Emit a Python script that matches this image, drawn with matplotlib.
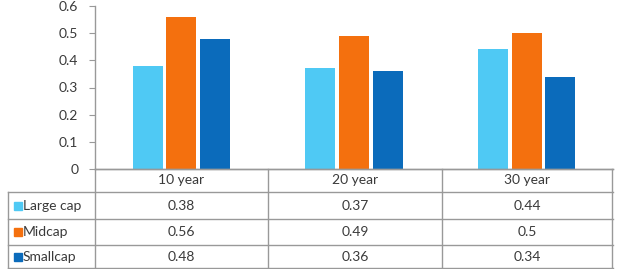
import matplotlib
matplotlib.use("Agg")
import matplotlib.pyplot as plt
import numpy as np

categories = ["10 year", "20 year", "30 year"]
series_names = ["Large cap", "Midcap", "Smallcap"]
large_cap = [0.38, 0.37, 0.44]
midcap = [0.56, 0.49, 0.50]
smallcap = [0.48, 0.36, 0.34]
cell_text = [["0.38", "0.37", "0.44"], ["0.56", "0.49", "0.5"], ["0.48", "0.36", "0.34"]]
colors = ["#4FC9F4", "#F4700E", "#0B6BBB"]
yticks = [0, 0.1, 0.2, 0.3, 0.4, 0.5, 0.6]

plt.rcParams['font.family'] = ['Lato', 'DejaVu Sans']
W, H = 620, 269
fig = plt.figure(figsize=(W/100, H/100), dpi=100)
fig.patch.set_facecolor("white")
tcol = "#3a3a3a"
fs = 10

L, R, T, B = 95, 613, 6, 169
ax = fig.add_axes([L/W, 1-B/H, (R-L)/W, (B-T)/H])
series = [large_cap, midcap, smallcap]
x = np.arange(len(categories))
bw = 0.175
gap = 0.02
for i, (vals, c) in enumerate(zip(series, colors)):
    ax.bar(x + (i-1)*(bw+gap), vals, width=bw, color=c, zorder=2)
ax.set_xlim(-0.5, len(categories)-0.5)
ax.set_ylim(0, 0.6)
ax.set_yticks(yticks)
ax.set_yticklabels([f"{t:g}" for t in yticks], fontsize=fs, color=tcol)
ax.set_xticks([])
for s in ["top", "right"]:
    ax.spines[s].set_visible(False)
for s in ["left", "bottom"]:
    ax.spines[s].set_color("#999999")
    ax.spines[s].set_linewidth(1.0)
ax.tick_params(axis="y", length=4, color="#999999", pad=8)

# table
tx = fig.add_axes([0, 0, 1, 1])
tx.set_xlim(0, W)
tx.set_ylim(H, 0)
tx.axis("off")
lc = "#999999"
lw = 1.0
col_edges = [95, 268, 442, 613]
row_edges = [169, 192, 219, 245, 269]
left = 8
for xe in col_edges[:-1]:
    tx.plot([xe, xe], [row_edges[0], row_edges[-1]], color=lc, lw=lw)
tx.plot([left, left], [row_edges[1], row_edges[-1]], color=lc, lw=lw)
tx.plot([col_edges[-1]-1, col_edges[-1]-1], [row_edges[0], row_edges[-1]], color=lc, lw=lw)
tx.plot([col_edges[0], col_edges[-1]], [row_edges[0], row_edges[0]], color=lc, lw=lw)
for ye in row_edges[1:-1]:
    tx.plot([left, col_edges[-1]], [ye, ye], color=lc, lw=lw)
tx.plot([left, col_edges[-1]], [row_edges[-1]-1, row_edges[-1]-1], color=lc, lw=lw)

for j, cat in enumerate(categories):
    cx = (col_edges[j] + col_edges[j+1]) / 2
    tx.text(cx, (row_edges[0]+row_edges[1])/2, cat, ha="center", va="center", fontsize=fs, color=tcol)
for i, name in enumerate(series_names):
    cy = (row_edges[i+1] + row_edges[i+2]) / 2
    tx.add_patch(plt.Rectangle((14, cy-4), 8, 8, color=colors[i]))
    tx.text(23, cy, name, ha="left", va="center", fontsize=fs, color=tcol)
    for j in range(len(categories)):
        cx = (col_edges[j] + col_edges[j+1]) / 2
        tx.text(cx, cy, cell_text[i][j], ha="center", va="center", fontsize=fs, color=tcol)

fig.savefig("out.png", dpi=100)
